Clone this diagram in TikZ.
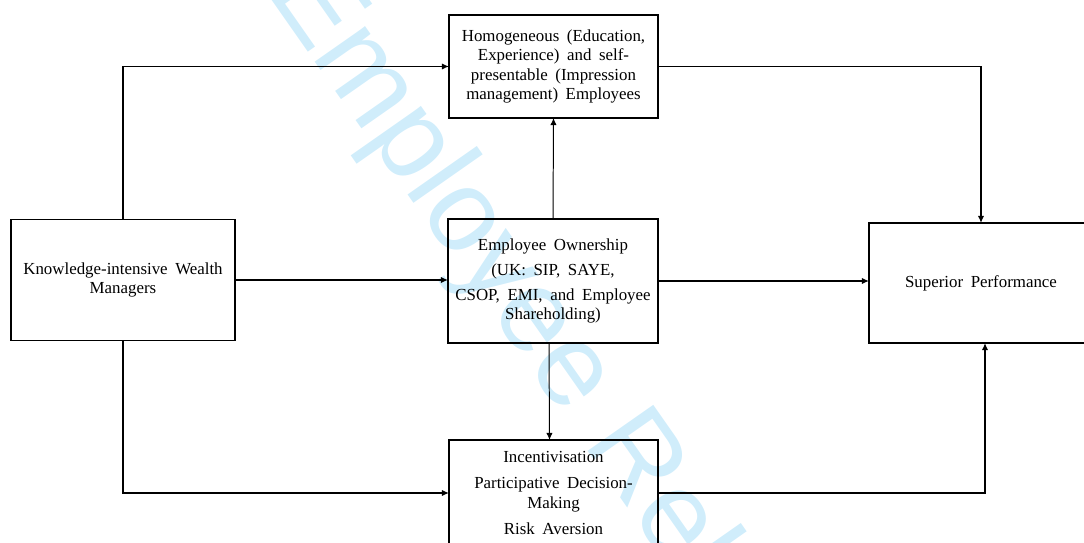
\documentclass[tikz,border=0pt]{standalone}
\usepackage{fontspec}
\setmainfont{Liberation Serif}
\newfontfamily\wmfont{Liberation Sans}
\usetikzlibrary{arrows.meta,calc}
\definecolor{wmblue}{RGB}{208,237,251}
\newcommand\boxfont{\fontsize{12}{13.6}\selectfont\spaceskip=0.45em plus 0.1em\relax}

\begin{document}
\begin{tikzpicture}[x=0.025cm,y=-0.025cm,
		box/.style={draw,line width=1.3pt,inner sep=0pt,outer sep=0pt,align=center,font=\boxfont},
		thk/.style={line width=1.3pt,-{Latex[length=5pt,width=4.5pt]}},
		thn/.style={line width=0.7pt,-{Latex[length=5pt,width=4.5pt]}}]
		\clip (0,0) rectangle (1084,543);
		\node[wmblue,inner sep=0pt,anchor=base west,rotate=-55,font=\wmfont\fontsize{83}{83}\selectfont] (WM) at (266,-8) {Employee Relations};
%
		\node[box,minimum width=5.6cm,minimum height=3.025cm] (KWM) at (123,280) {Knowledge-intensive Wealth\\ Managers};
		\node[box,minimum width=5.225cm,minimum height=2.575cm] (HOM) at (553.5,66.5) {Homogeneous (Education,\\ Experience) and self-\\ presentable (Impression\\ management) Employees};
		\node[box,minimum width=5.25cm,minimum height=3.1cm] (EO) at (553,281) {Employee Ownership\\[4pt] (UK: SIP, SAYE,\\[4pt] CSOP, EMI, and Employee\\ Shareholding)};
		\node[box,minimum width=5.225cm,minimum height=2.65cm] (INC) at (553.5,493) {Incentivisation\\[5pt] Participative Decision-\\ Making\\[5pt] Risk Aversion};
		\node[box,minimum width=5.6cm,minimum height=3cm] (SP) at (981,283) {Superior Performance};
%
		\draw[thk] (KWM.north) |- (HOM.west);
		\draw[thk] (KWM.east) -- (KWM.east -| EO.west);
		\draw[thk] (KWM.south) |- (INC.west);
		\draw[thn] (EO.north) -- (HOM.south);
		\draw[thn] ([xshift=-0.1cm]EO.south) -- ([xshift=-0.1cm]INC.north);
		\draw[thk] (HOM.east) -| (SP.north);
		\draw[thk] (EO.east) -- (EO.east -| SP.west);
		\draw[thk] (INC.east) -| ([xshift=0.1cm]SP.south);
	\end{tikzpicture}
\end{document}
